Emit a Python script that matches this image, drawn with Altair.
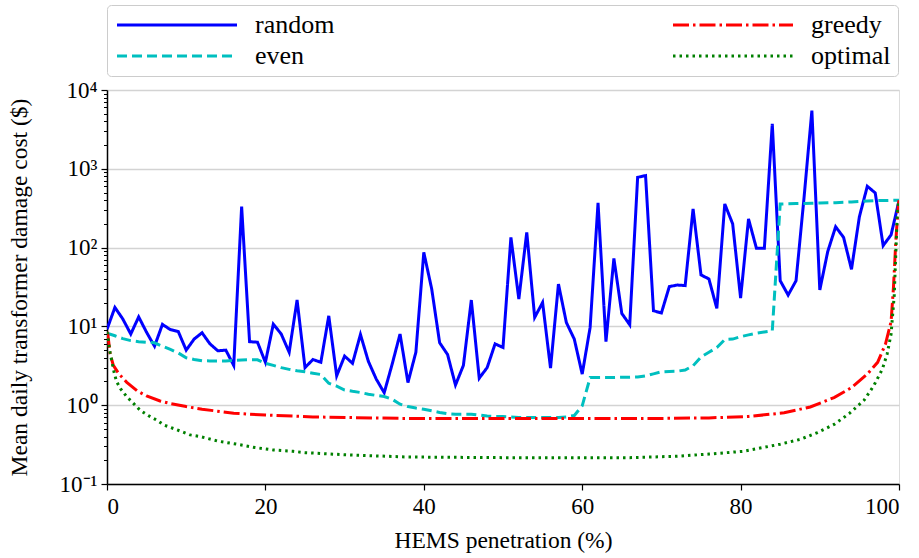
import altair as alt
import pandas as pd

# ---- data ----
x_int = list(range(101))
random_vals = [9.2, 17.4, 12.4, 8.0, 13.2, 8.4, 5.6, 10.6, 9.1, 8.6,
               5.0, 6.9, 8.3, 6.0, 4.9, 5.0, 3.2, 331, 6.4, 6.3,
               3.5, 10.7, 8.0, 4.7, 21.6, 3.0, 3.8, 3.5, 13.6, 2.36,
               4.2, 3.4, 7.9, 3.6, 2.14, 1.44, 3.3, 8.0, 1.94, 4.7,
               87, 29.8, 6.2, 4.4, 1.8, 3.2, 21.6, 2.2, 3.0, 6.0,
               5.4, 135, 22.2, 156, 13.0, 20.1, 2.95, 34.5, 11.2, 6.9,
               2.48, 9.7, 369, 6.4, 73, 14.6, 10.5, 780, 820, 15.8,
               14.8, 32, 33.5, 33, 310, 45, 40, 16.9, 358, 200,
               22.9, 231, 98, 98, 3720, 38, 25, 38, 420, 5480,
               29, 89, 184, 135, 53, 247, 600, 494, 106, 145, 394]

even_vals = [8.2, 7.6, 7.0, 6.6, 6.4, 6.3, 6.2, 5.6, 5.1, 4.6,
             4.0, 3.8, 3.66, 3.65, 3.65, 3.65, 3.7, 3.75, 3.77, 3.77,
             3.4, 3.2, 3.0, 2.85, 2.73, 2.65, 2.55, 2.45, 1.9, 1.75,
             1.56, 1.5, 1.45, 1.38, 1.33, 1.29, 1.19, 1.03, 0.96, 0.92,
             0.89, 0.85, 0.81, 0.78, 0.77, 0.77, 0.77, 0.75, 0.73, 0.72,
             0.72, 0.71, 0.70, 0.70, 0.70, 0.70, 0.70, 0.70, 0.71, 0.74,
             0.98, 2.24, 2.24, 2.24, 2.25, 2.26, 2.27, 2.28, 2.36, 2.5,
             2.65, 2.68, 2.7, 2.8, 3.16, 4.1, 4.7, 5.4, 6.8, 6.9,
             7.4, 7.8, 8.2, 8.5, 8.8, 358, 360, 362, 364, 366,
             368, 370, 372, 375, 380, 385, 390, 394, 396, 398, 400]

greedy_x = [0, 0.1, 0.4, 0.8, 1.5, 2.5, 3.8, 5, 6.7, 8, 10, 12, 16, 20, 26, 37,
            50, 60, 70, 76, 81, 85.5, 88.8, 91.8, 94, 96, 97.3, 98.3, 99, 99.3,
            99.6, 99.9, 100]
greedy_vals = [8.5, 8.0, 4.45, 3.2, 2.5, 1.95, 1.52, 1.31, 1.13, 1.05, 0.96, 0.89,
               0.79, 0.75, 0.71, 0.68, 0.68, 0.68, 0.68, 0.69, 0.72, 0.8, 0.95,
               1.25, 1.67, 2.48, 3.5, 6.0, 11.5, 31, 122, 330, 400]

optimal_x = [0, 0.4, 0.9, 1.2, 1.7, 2.5, 3.4, 4.2, 5.2, 6.3, 7.2, 8.3, 9.5, 10.5,
             11.8, 14, 16.4, 18.7, 21, 23.5, 25, 30, 38, 50, 66, 72, 76, 80.4,
             85, 87.6, 89.7, 91.8, 93.7, 95.6, 96.8, 97.9, 98.5, 99, 99.4,
             99.8, 100]
optimal_vals = [8.5, 4.6, 2.6, 2.0, 1.62, 1.28, 1.04, 0.86, 0.74, 0.645, 0.56,
                0.51, 0.46, 0.42, 0.40, 0.35, 0.32, 0.29, 0.27, 0.26, 0.25,
                0.235, 0.22, 0.216, 0.216, 0.225, 0.24, 0.26, 0.32, 0.37, 0.45,
                0.57, 0.78, 1.16, 1.76, 2.87, 4.45, 8.0, 25, 300, 400]

series_order = ["random", "even", "greedy", "optimal"]
series_colors = ["#0000ff", "#00bfbf", "#ff0000", "#008000"]
series_dashes = [[1, 0], [10, 5], [16, 4, 2.5, 4], [2.5, 4]]

x_ticks = [0, 20, 40, 60, 80, 100]
y_major = [0.1, 1, 10, 100, 1000, 10000]
y_minor = [m * d for d in [0.1, 1, 10, 100, 1000] for m in range(2, 10)]

# ---- build table ----
rows = []
for x, v in zip(x_int, random_vals):
    rows.append({"x": x, "y": v, "series": "random"})
for x, v in zip(x_int, even_vals):
    rows.append({"x": x, "y": v, "series": "even"})
for x, v in zip(greedy_x, greedy_vals):
    rows.append({"x": x, "y": v, "series": "greedy"})
for x, v in zip(optimal_x, optimal_vals):
    rows.append({"x": x, "y": v, "series": "optimal"})
df = pd.DataFrame(rows)
minor_df = pd.DataFrame({"v": y_minor})

FONT = "Liberation Serif"
TICK_FS = 23
TITLE_FS = 23.5
LEGEND_FS = 26

xscale = alt.Scale(domain=[0, 100], nice=False, zero=False)
yscale = alt.Scale(type="log", domain=[0.1, 10000], nice=False)

label_expr = ("datum.value < 0.5 ? '10\u207b\u00b9' : datum.value < 5 ? '10\u2070' : "
              "datum.value < 50 ? '10\u00b9' : datum.value < 500 ? '10\u00b2' : "
              "datum.value < 5000 ? '10\u00b3' : '10\u2074'")

color_enc = alt.Color("series:N",
                      scale=alt.Scale(domain=series_order, range=series_colors),
                      legend=alt.Legend(
                          orient="none", legendX=0, legendY=-85, columns=2,
                          columnPadding=332, rowPadding=5, padding=7,
                          symbolType="M-1,0H11", symbolSize=400,
                          symbolStrokeWidth=3, labelFont=FONT,
                          labelFontSize=LEGEND_FS,
                          labelColor="black", labelOffset=115,
                          strokeColor="#cccccc", fillColor="white",
                          cornerRadius=4, title=None))
dash_enc = alt.StrokeDash("series:N",
                          scale=alt.Scale(domain=series_order, range=series_dashes),
                          legend=None)


def line_layer(name):
    return alt.Chart(df).transform_filter(alt.datum.series == name).mark_line(
        strokeWidth=3, clip=True
    ).encode(
        x=alt.X("x:Q", scale=xscale,
                axis=alt.Axis(values=x_ticks, title="HEMS penetration (%)",
                              grid=False, tickSize=6, tickColor="black", tickWidth=1.2,
                              labelFont=FONT, labelFontSize=TICK_FS, labelColor="black",
                              titleFont=FONT, titleFontSize=TITLE_FS,
                              titleFontWeight="normal",
                              titleColor="black", labelPadding=5, titlePadding=10,
                              domainColor="black", domainWidth=1.5)),
        y=alt.Y("y:Q", scale=yscale,
                axis=alt.Axis(values=y_major, labelExpr=label_expr,
                              title="Mean daily transformer damage cost ($)",
                              grid=True, gridColor="#d3d3d3", gridWidth=1.5,
                              tickSize=6, tickColor="black", tickWidth=1.2,
                              labelFont=FONT, labelFontSize=TICK_FS, labelColor="black",
                              titleFont=FONT, titleFontSize=TITLE_FS,
                              titleFontWeight="normal",
                              titleColor="black", labelPadding=4, titlePadding=28,
                              domainColor="black", domainWidth=1.5)),
        color=color_enc,
        strokeDash=dash_enc,
    )


minor_layer = alt.Chart(minor_df).mark_point(opacity=0).encode(
    y=alt.Y("v:Q", scale=yscale,
            axis=alt.Axis(values=y_minor, orient="left", labels=False, grid=False,
                          tickSize=3.5, tickColor="black", tickWidth=1,
                          domain=False, title=None))
)

lines = alt.layer(*[line_layer(n) for n in ["random", "even", "greedy", "optimal"]])

chart = alt.layer(lines, minor_layer).resolve_axis(y="independent").properties(
    width=792, height=394,
    autosize=alt.AutoSizeParams(type="none"),
    padding={"left": 107, "top": 90, "right": 20, "bottom": 74},
).configure_view(stroke="black", strokeWidth=1.5).configure(background="white")

chart.save("out.html", embed_options={"renderer": "svg", "actions": False})
